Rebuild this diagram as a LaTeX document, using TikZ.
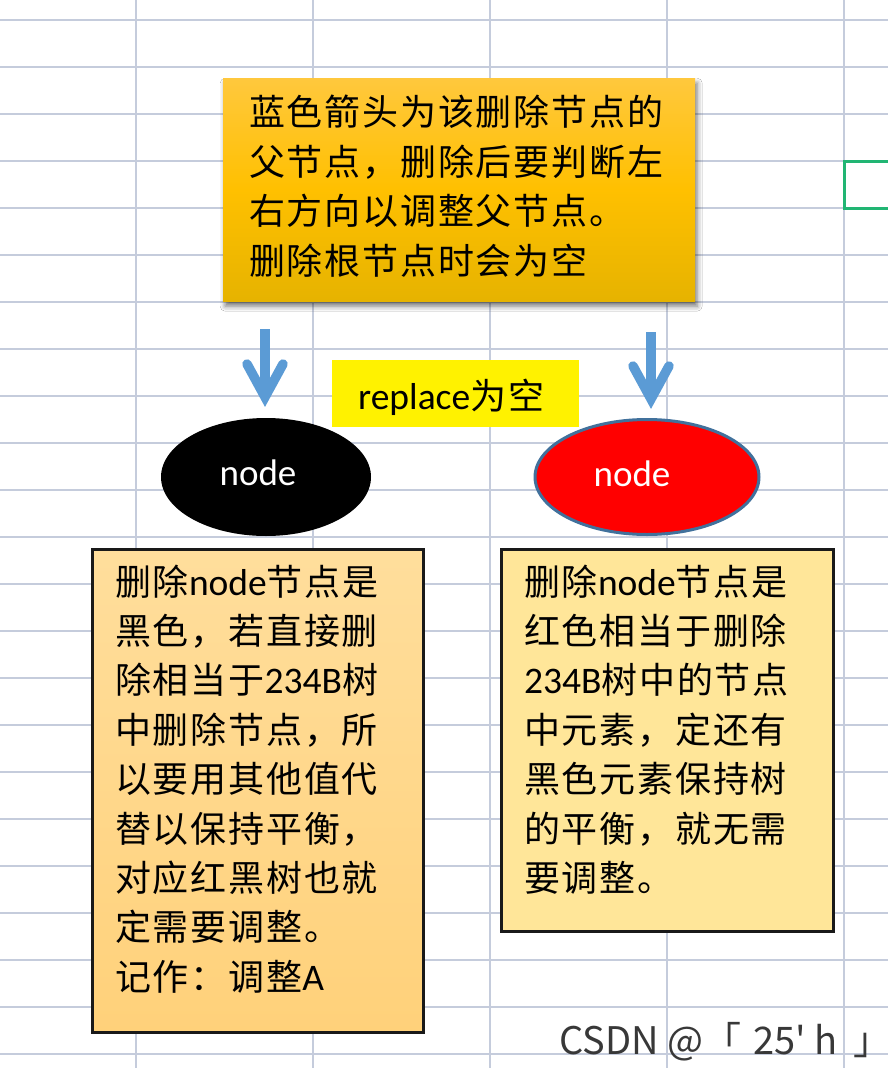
\documentclass[tikz,border=0pt]{standalone}
\usepackage{fontspec}
\setmainfont{Carlito}
\newfontfamily\cjk[LetterSpace=5]{Noto Sans CJK SC}
\newfontfamily\wmfont{Noto Sans CJK SC}
\usetikzlibrary{shapes.geometric,shadows.blur,calc}
\definecolor{gridc}{HTML}{C5CCDC}
\definecolor{arrowblue}{HTML}{5B9BD5}
\definecolor{gbox}{HTML}{21B573}
\definecolor{redborder}{HTML}{41719C}
\definecolor{lboxtop}{HTML}{FFDE9C}
\definecolor{lboxbot}{HTML}{FFD17A}
\definecolor{rboxc}{HTML}{FFE699}
\definecolor{topa}{HTML}{FFC83D}
\definecolor{topb}{HTML}{FFC000}
\definecolor{topc}{HTML}{E6B300}
\newcommand\zh[1]{{\fontsize{36}{44}\cjk #1}}
\tikzset{
  gridline/.style={draw=gridc, line width=1.1},
  txt/.style={inner sep=0, anchor=base west, font=\fontsize{37.5}{44}\selectfont},
  shaftline/.style={draw=arrowblue, line width=9.5, line cap=butt},
  headline/.style={draw=arrowblue, line width=9.5, line join=miter, line cap=round},
  notebox/.style={draw=black!90, line width=2.5, anchor=north west, inner sep=0},
  nodelabel/.style={inner sep=0, anchor=base, text=white, font=\fontsize{37}{44}\selectfont},
}
\begin{document}
\begin{tikzpicture}[x=1pt,y=-1pt]
\useasboundingbox (0,0) rectangle (888,1068);
\clip (0,0) rectangle (888,1068);
\fill[white] (0,0) rectangle (888,1068);
% grid
\foreach \x in {136,313,490,667,844} \draw[gridline] (\x,0) -- (\x,1068);
\foreach \k in {0,...,22} \draw[gridline] (0,{20+47*\k}) -- (888,{20+47*\k});
% selected cell
\draw[gbox, line width=3] (844,161.5) rectangle (900,208.5);
% top note
\node[anchor=north west, inner sep=0, minimum width=472, minimum height=223,
      top color=topa, bottom color=topc, middle color=topb,
      blur shadow={shadow xshift=2pt, shadow yshift=-5pt, shadow blur radius=5pt, shadow opacity=55}]
      (top) at (223,78) {};
\foreach \l [count=\i] in {蓝色箭头为该删除节点的, 父节点，删除后要判断左, 右方向以调整父节点。, 删除根节点时会为空}
  \node[txt] (tt\i) at (249,{125.5+49.7*(\i-1)}) {\zh{\l}};
% arrows
\coordinate (la1) at (265,329);
\coordinate (la2) at (265,397);
\coordinate (ra1) at (651,332);
\coordinate (ra2) at (651,399);
\draw[shaftline] (la1) -- (la2);
\draw[headline] ($(la2)+(-18,-33)$) -- (la2) -- ($(la2)+(18,-33)$);
\draw[shaftline] (ra1) -- (ra2);
\draw[headline] ($(ra2)+(-18,-33)$) -- (ra2) -- ($(ra2)+(18,-33)$);
% replace label
\node[fill=yellow, anchor=north west, inner sep=0, minimum width=247, minimum height=67] (rep) at (332,360) {};
\node[txt] (rept) at (358,409) {replace\zh{为空}};
% ellipses
\node[ellipse, fill=black, inner sep=0, minimum width=210, minimum height=118] (bn) at (266,477) {};
\node[nodelabel] (bnt) at (258,485) {node};
\node[ellipse, fill=red, draw=redborder, line width=3, inner sep=0, minimum width=224, minimum height=115] (rn) at (647,477) {};
\node[nodelabel] (rnt) at (632,486) {node};
% bottom notes
\node[notebox, top color=lboxtop, bottom color=lboxbot, minimum width=331, minimum height=483] (lb) at (91,548) {};
\node[notebox, fill=rboxc, minimum width=332, minimum height=382] (rb) at (500,548) {};
\foreach \l [count=\i] in {{\zh{删除}node\zh{节点是}}, {\zh{黑色，若直接删}}, {\zh{除相当于}234B\zh{树}},
  {\zh{中删除节点，所}}, {\zh{以要用其他值代}}, {\zh{替以保持平衡，}}, {\zh{对应红黑树也就}},
  {\zh{定需要调整。}}, {\zh{记作：调整}A}}
  \node[txt] (lt\i) at (115,{595+49.4*(\i-1)}) {\l};
\foreach \l [count=\i] in {{\zh{删除}node\zh{节点是}}, {\zh{红色相当于删除}}, {234B\zh{树中的节点}},
  {\zh{中元素，定还有}}, {\zh{黑色元素保持树}}, {\zh{的平衡，就无需}}, {\zh{要调整。}}}
  \node[txt] (rt\i) at (524,{595+49.4*(\i-1)}) {\l};
% watermark
\node[inner sep=0, anchor=base west, text=black!78, font=\wmfont\fontsize{38}{44}\selectfont] (wm) at (559,1054) {CSDN @「\hspace{12pt}25' h\hspace{16pt}\rlap{」}};
\end{tikzpicture}
\end{document}
